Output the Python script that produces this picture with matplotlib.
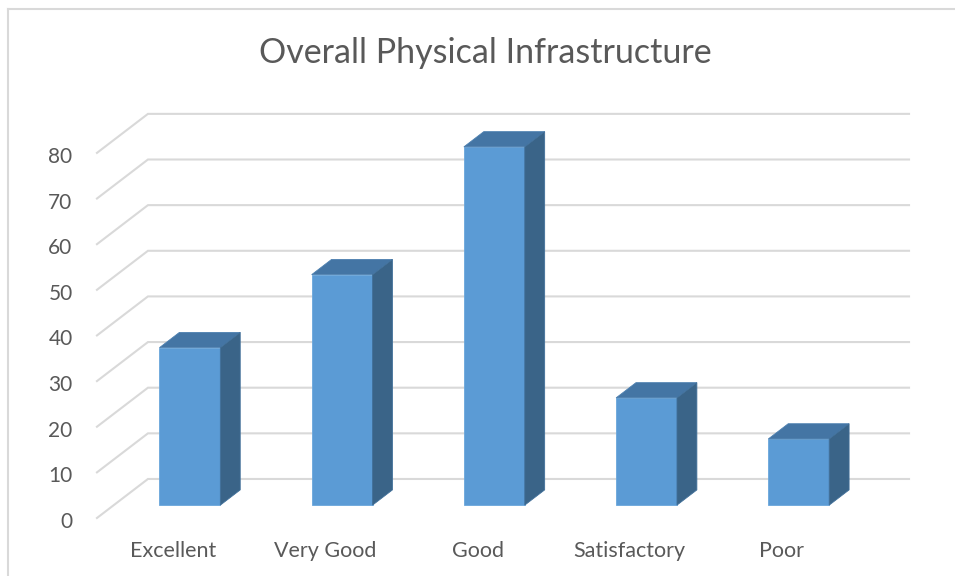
import matplotlib.pyplot as plt
from matplotlib.patches import Polygon
from matplotlib.lines import Line2D

categories = ["Excellent", "Very Good", "Good", "Satisfactory", "Poor"]
values = [34.5, 50.5, 78.5, 23.5, 14.5]
y_ticks = [0, 10, 20, 30, 40, 50, 60, 70, 80]

# fake 3d: shift of the back wall (data units), bar depth fractions
dx, dy = 0.335, 8.55
d0, d1 = 0.33, 0.72
width = 0.4

front_c = "#5b9bd5"
top_c = "#4475a4"
side_c = "#3a6488"
grid_c = "#d9d9d9"
text_c = "#595959"

plt.rcParams['font.family'] = ['Lato', 'DejaVu Sans']

fig = plt.figure(figsize=(9.55, 5.76), dpi=100)
ax = fig.add_axes([0, 0, 1, 1])
ax.set_xlim(-0.637, 5.637)
ax.set_ylim(-12.71, 113.5)
ax.axis('off')

n = len(categories)

# gridlines: diagonal on the side wall + horizontal on the back wall
for t in y_ticks:
    ax.plot([0, dx, n + dx], [t, t + dy, t + dy], color=grid_c, lw=1.5, zorder=1,
            solid_joinstyle='miter')
    ax.text(-0.16, t - 2.2, str(t), ha='right', va='baseline', fontsize=15, color=text_c)

# bars
b0 = d0 * dy
ddx = (d1 - d0) * dx
ddy = (d1 - d0) * dy
xs = [i + 0.5 + d0 * dx for i in range(n)]
ax.bar(xs, values, width, bottom=b0, color=front_c, edgecolor="#6aa6db", linewidth=0.6, zorder=3)
for x, v in zip(xs, values):
    xl, xr = x - width / 2, x + width / 2
    top = [(xl, v + b0), (xr, v + b0), (xr + ddx, v + b0 + ddy), (xl + ddx, v + b0 + ddy)]
    side = [(xr, b0), (xr + ddx, b0 + ddy), (xr + ddx, v + b0 + ddy), (xr, v + b0)]
    ax.add_patch(Polygon(top, closed=True, facecolor=top_c, edgecolor="#4d80b0", lw=0.6, zorder=3))
    ax.add_patch(Polygon(side, closed=True, facecolor=side_c, edgecolor="#41709a", lw=0.6, zorder=3))

# category labels
for i, c in enumerate(categories):
    ax.text(i + 0.5, -8.5, c, ha='center', va='baseline', fontsize=15.5, color=text_c)

ax.text(2.55, 99.7, "Overall Physical Infrastructure", ha='center', va='baseline',
        fontsize=24.5, color=text_c)

# chart border (only top and left visible)
fig.add_artist(Line2D([7.5 / 955, 7.5 / 955], [0, 1 - 8.5 / 576], transform=fig.transFigure,
                      color=grid_c, lw=1.5))
fig.add_artist(Line2D([7.5 / 955, 1], [1 - 8.5 / 576, 1 - 8.5 / 576], transform=fig.transFigure,
                      color=grid_c, lw=1.5))

fig.savefig("out.png", dpi=100)
